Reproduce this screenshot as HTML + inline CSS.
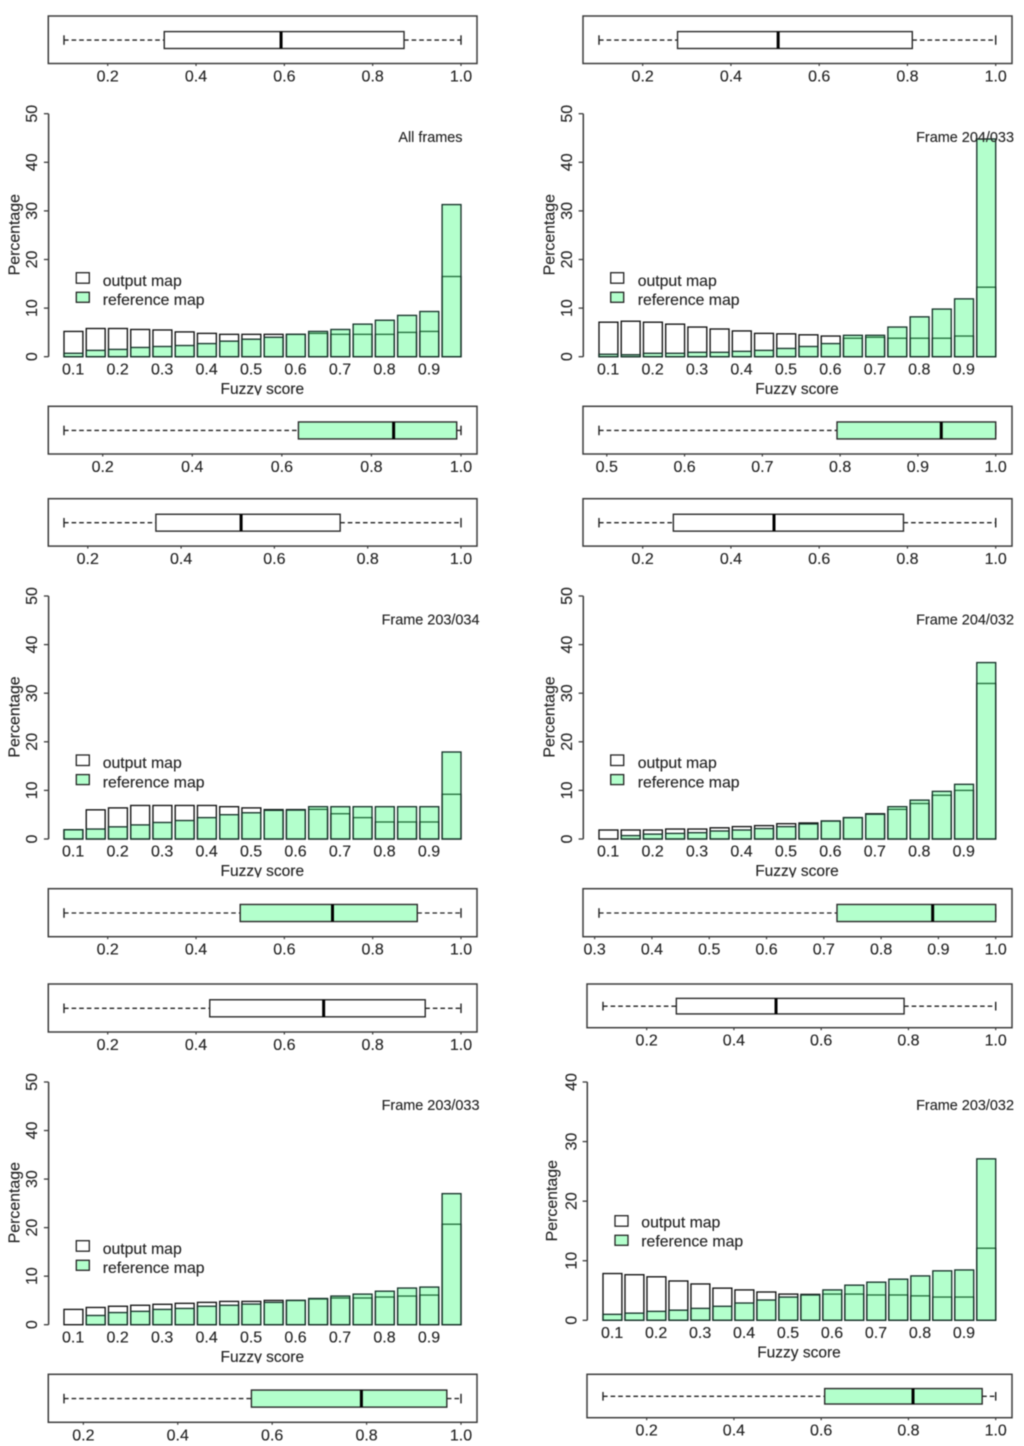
<!DOCTYPE html>
<html lang="en">
<head>
<meta charset="utf-8">
<title>Fuzzy score histograms and boxplots</title>
<style>
  html, body { margin: 0; padding: 0; background: #fff; }
  body { width: 1024px; height: 1446px; overflow: hidden; }
  svg { display: block; filter: blur(0.4px); }
  text { font-family: "Liberation Sans", sans-serif; fill: #222; stroke: #222; stroke-width: 0.12; }
</style>
</head>
<body>
<svg id="figure" xmlns="http://www.w3.org/2000/svg" width="1024" height="1446" viewBox="0 0 1024 1446">
  <rect x="0" y="0" width="1024" height="1446" fill="#fff"></rect>
</svg>
<script>
// ---------- Data: bins ----------
const binLabels = ['0.1','','0.2','','0.3','','0.4','','0.5','','0.6','','0.7','','0.8','','0.9',''];
const yTicks50 = [0, 10, 20, 30, 40, 50];
const yTicks40 = [0, 10, 20, 30, 40];

// ---------- Data: histogram percentages ----------
const allFramesOutput = [5.2,5.8,5.8,5.6,5.5,5.1,4.8,4.6,4.6,4.6,4.6,4.8,4.6,4.6,4.6,5.0,5.2,16.5];
const allFramesReference = [0.7,1.3,1.5,1.9,2.1,2.3,2.7,3.2,3.6,4.0,4.6,5.2,5.6,6.7,7.5,8.5,9.3,31.3];
const f204033Output = [7.1,7.3,7.1,6.7,6.1,5.7,5.3,4.8,4.7,4.5,4.25,3.8,4.0,3.8,3.8,3.8,4.25,14.3];
const f204033Reference = [0.5,0.4,0.7,0.7,0.9,0.9,1.1,1.3,1.7,2.1,2.7,4.4,4.4,6.1,8.2,9.8,11.9,44.8];
const f203034Output = [1.9,6.0,6.4,6.9,6.9,6.9,6.9,6.65,6.4,6.05,6.05,6.1,5.2,4.4,3.5,3.5,3.5,9.2];
const f203034Reference = [1.9,2.05,2.5,2.9,3.4,3.8,4.4,5.0,5.4,5.9,5.95,6.65,6.65,6.65,6.65,6.65,6.65,17.9];
const f204032Output = [1.85,1.85,1.85,2.05,2.05,2.3,2.55,2.75,3.15,3.3,3.7,4.4,5.2,6.1,7.3,9.0,10.0,32.0];
const f204032Reference = [0,0.7,1.0,1.15,1.3,1.65,1.85,2.15,2.55,3.1,3.7,4.4,5.1,6.65,8.0,9.8,11.25,36.3];
const f203033Output = [3.15,3.55,3.8,4.0,4.2,4.4,4.6,4.8,4.8,5.0,5.0,5.3,5.5,5.5,5.7,5.9,6.1,20.7];
const f203033Reference = [0,1.9,2.5,2.75,3.15,3.35,3.8,4.0,4.25,4.6,5.0,5.4,5.9,6.3,6.9,7.55,7.75,27.0];
const f203032Output = [7.85,7.65,7.3,6.6,6.1,5.4,5.1,4.75,4.4,4.35,4.4,4.4,4.25,4.25,4.1,3.9,3.9,12.1];
const f203032Reference = [1.0,1.2,1.5,1.7,2.0,2.35,2.9,3.4,3.9,4.25,5.1,5.9,6.4,6.9,7.45,8.3,8.45,27.1];

// ---------- Data: boxplot five-number summaries [low, q1, median, q3, high] ----------
const allFramesOutputBox = [0.101,0.328,0.5925,0.871,1.0];
const allFramesReferenceBox = [0.1136,0.637,0.8496,0.9904,1.0];
const f204033OutputBox = [0.101,0.279,0.507,0.811,1.0];
const f204033ReferenceBox = [0.490,0.796,0.930,1.0,1.0];
const f203034OutputBox = [0.149,0.346,0.5286,0.741,1.0];
const f203034ReferenceBox = [0.101,0.500,0.709,0.901,1.0];
const f204032OutputBox = [0.101,0.2695,0.4976,0.791,1.0];
const f204032ReferenceBox = [0.3076,0.723,0.890,1.0,1.0];
const f203033OutputBox = [0.101,0.431,0.689,0.919,1.0];
const f203033ReferenceBox = [0.159,0.556,0.789,0.970,1.0];
const f203032OutputBox = [0.0999,0.268,0.4965,0.790,1.0];
const f203032ReferenceBox = [0.0999,0.608,0.8105,0.969,1.0];

// ---------- Data: boxplot tick labels ----------
const ticksPoint2 = ['0.2','0.4','0.6','0.8','1.0'];
const ticksFrom5 = ['0.5','0.6','0.7','0.8','0.9','1.0'];
const ticksFrom3 = ['0.3','0.4','0.5','0.6','0.7','0.8','0.9','1.0'];

// ---------- Layout ----------
const colL = { frameL: 48.3, frameR: 477, plotL: 64, plotR: 461, axis: 48.6, yLabelX: 37, pctX: 19.5, fuzzyX: 262.3, legSwatch: 76.3, legText: 102.7, noteR: 479.5 };
const colR = { frameL: 583, frameR: 1012, plotL: 599, plotR: 995.7, axis: 583.3, yLabelX: 572, pctX: 554.5, fuzzyX: 797, legSwatch: 610.7, legText: 637.7, noteR: 1014 };
const colR3 = { frameL: 587, frameR: 1012, plotL: 603, plotR: 995.7, axis: 587.3, yLabelX: 576.5, pctX: 557, fuzzyX: 799, legSwatch: 615, legText: 641.3, noteR: 1014 };

const panels = [
  { id: 'all-frames', note: 'All frames', col: colL, noteRight: 462.5, top: 16, topH: 47.5, zero: 356.7, full: 113.7, yMax: 50, yTicks: yTicks50, botTop: 406.3, botH: 47.7, noteY: 142, leg: 272.7, legTextShift: 0, clip: true,
    output: allFramesOutput, reference: allFramesReference, outBox: allFramesOutputBox, refBox: allFramesReferenceBox, outTicks: ticksPoint2, refTicks: ticksPoint2 },
  { id: 'frame-204-033', note: 'Frame 204/033', col: colR, top: 16, topH: 47.5, zero: 356.7, full: 113.7, yMax: 50, yTicks: yTicks50, botTop: 406.3, botH: 47.7, noteY: 142, leg: 272.7, legTextShift: 0, clip: true,
    output: f204033Output, reference: f204033Reference, outBox: f204033OutputBox, refBox: f204033ReferenceBox, outTicks: ticksPoint2, refTicks: ticksFrom5 },
  { id: 'frame-203-034', note: 'Frame 203/034', col: colL, top: 498.7, topH: 47.4, zero: 839, full: 596, yMax: 50, yTicks: yTicks50, botTop: 888.7, botH: 48, noteY: 624.3, leg: 755, legTextShift: 0, clip: true,
    output: f203034Output, reference: f203034Reference, outBox: f203034OutputBox, refBox: f203034ReferenceBox, outTicks: ticksPoint2, refTicks: ticksPoint2 },
  { id: 'frame-204-032', note: 'Frame 204/032', col: colR, top: 498.7, topH: 47.4, zero: 839, full: 596, yMax: 50, yTicks: yTicks50, botTop: 888.7, botH: 48, noteY: 624.3, leg: 755, legTextShift: 0, clip: true,
    output: f204032Output, reference: f204032Reference, outBox: f204032OutputBox, refBox: f204032ReferenceBox, outTicks: ticksPoint2, refTicks: ticksFrom3 },
  { id: 'frame-203-033', note: 'Frame 203/033', col: colL, top: 984, topH: 48, zero: 1324.7, full: 1082, yMax: 50, yTicks: yTicks50, botTop: 1374.3, botH: 48, noteY: 1110, leg: 1240.7, legTextShift: 0, clip: true,
    output: f203033Output, reference: f203033Reference, outBox: f203033OutputBox, refBox: f203033ReferenceBox, outTicks: ticksPoint2, refTicks: ticksPoint2 },
  { id: 'frame-203-032', note: 'Frame 203/032', col: colR3, top: 984, topH: 43.7, zero: 1320.3, full: 1082, yMax: 40, yTicks: yTicks40, botTop: 1374.3, botH: 43.4, noteY: 1110, leg: 1215.7, legTextShift: -1.5, clip: false,
    output: f203032Output, reference: f203032Reference, outBox: f203032OutputBox, refBox: f203032ReferenceBox, outTicks: ticksPoint2, refTicks: ticksPoint2 }
];

const TICK_FONT = 16;
const LEGEND_FONT = 15.8;
const TITLE_FONT = 15.5;
const NOTE_FONT = 14.45;
const FRAME = '#3c3c3c';
const INK = '#222';
const GREEN = '#b3ffcc';
const svg = document.getElementById('figure');
const NS = 'http://www.w3.org/2000/svg';

function make(parent, tag, attrs, content) {
  const node = document.createElementNS(NS, tag);
  for (const key in attrs) node.setAttribute(key, attrs[key]);
  if (content !== undefined) node.textContent = content;
  parent.appendChild(node);
  return node;
}

function drawBox(parent, name, stats, ticks, col, top, height, fill) {
  const group = make(parent, 'g', {});
  
  

  const frame = make(group, 'rect', { x: col.frameL, y: top, width: col.frameR - col.frameL, height: height, fill: 'none', stroke: FRAME, 'stroke-width': 1.5 });
  
  

  const low = stats[0], high = stats[4];
  const axisMax = 1.0;
  const sx = v => col.plotL + (v - low) / (axisMax - low) * (col.plotR - col.plotL);
  const cy = top + height / 2 + 0.3;
  const half = height * 0.178;
  const cap = height * 0.1;
  const bottom = top + height;

  const whiskers = [[stats[0], stats[1]], [stats[3], stats[4]]];
  whiskers.forEach(function (w, i) {
    if (w[1] > w[0]) {
      const line = make(group, 'line', { x1: sx(w[0]), x2: sx(w[1]), y1: cy, y2: cy, stroke: INK, 'stroke-width': 1.35, 'stroke-dasharray': '4.6 3' });
      
      
    }
  });
  [stats[0], stats[4]].forEach(function (v, i) {
    const capLine = make(group, 'line', { x1: sx(v), x2: sx(v), y1: cy - cap, y2: cy + cap, stroke: INK, 'stroke-width': 1.4 });
    
    
  });

  const rect = make(group, 'rect', { x: sx(stats[1]), y: cy - half, width: sx(stats[3]) - sx(stats[1]), height: half * 2, fill: fill, stroke: '#2a2a2a', 'stroke-width': 1.4 });
  
  

  const med = make(group, 'line', { x1: sx(stats[2]), x2: sx(stats[2]), y1: cy - half, y2: cy + half, stroke: '#000', 'stroke-width': 3 });
  
  

  ticks.forEach(function (label) {
    const x = sx(parseFloat(label));
    const tick = make(group, 'line', { x1: x, x2: x, y1: bottom, y2: bottom + 2.5, stroke: FRAME, 'stroke-width': 1.2 });
    
    
    const text = make(group, 'text', { x: x, y: bottom + 18, 'font-size': TICK_FONT, 'text-anchor': 'middle' }, label);
    
    
  });
}

function drawHist(parent, p, index) {
  const col = p.col;
  const group = make(parent, 'g', {});
  
  

  const sy = v => p.zero - v / p.yMax * (p.zero - p.full);
  const barW = 18.9;
  const pitch = (col.plotR - col.plotL - barW) / (binLabels.length - 1);
  const bx = i => col.plotL + i * pitch;

  // y axis
  const axis = make(group, 'line', { x1: col.axis, x2: col.axis, y1: sy(0), y2: sy(p.yMax), stroke: FRAME, 'stroke-width': 1.5 });
  
  
  p.yTicks.forEach(function (v) {
    const tick = make(group, 'line', { x1: col.axis - 4.7, x2: col.axis, y1: sy(v), y2: sy(v), stroke: FRAME, 'stroke-width': 1.3 });
    
    
    const label = make(group, 'text', { x: 0, y: 0, transform: 'translate(' + col.yLabelX + ' ' + sy(v) + ') rotate(-90)', 'font-size': TICK_FONT, 'text-anchor': 'middle' }, String(v));
    
    
  });

  // bars
  p.output.forEach(function (v, i) {
    const bar = make(group, 'rect', { x: bx(i), y: sy(v), width: barW, height: sy(0) - sy(v), fill: '#fff', stroke: '#111', 'stroke-width': 1.35 });
    
    
  });
  p.reference.forEach(function (v, i) {
    const bar = make(group, 'rect', { x: bx(i), y: sy(v), width: barW, height: sy(0) - sy(v), fill: '#41ff80', 'fill-opacity': 0.4, stroke: '#17332a', 'stroke-width': 1.35 });
    
    
  });

  // x labels
  binLabels.forEach(function (label, i) {
    if (!label) return;
    const text = make(group, 'text', { x: bx(i) + barW / 2 - 0.3, y: p.zero + 17.6, 'font-size': TICK_FONT, 'text-anchor': 'middle' }, label);
    
    
  });

  // axis titles (clipped like the source panels)
  const clipAttr = {};
  if (p.clip) {
    const defs = make(group, 'defs', {});
    const cpA = make(defs, 'clipPath', { id: 'clip-pct-' + index });
    make(cpA, 'rect', { x: 0, y: p.zero - 200, width: 1024, height: 200 - 82.4 });
    const cpB = make(defs, 'clipPath', { id: 'clip-fuzzy-' + index });
    make(cpB, 'rect', { x: 0, y: p.zero + 20, width: 1024, height: 18.4 });
    clipAttr.pct = 'url(#clip-pct-' + index + ')';
    clipAttr.fuzzy = 'url(#clip-fuzzy-' + index + ')';
  }
  const pctHolder = make(group, 'g', p.clip ? { 'clip-path': clipAttr.pct } : {});
  const pctCenter = p.clip ? p.zero - 122 : p.zero - 119.6;
  const pct = make(pctHolder, 'text', { x: 0, y: 0, transform: 'translate(' + col.pctX + ' ' + pctCenter + ') rotate(-90)', 'font-size': 15.9, 'text-anchor': 'middle' }, 'Percentage');
  
  

  const fuzzyHolder = make(group, 'g', p.clip ? { 'clip-path': clipAttr.fuzzy } : {});
  const fuzzy = make(fuzzyHolder, 'text', { x: col.fuzzyX, y: p.zero + 37.2, 'font-size': TITLE_FONT, 'text-anchor': 'middle' }, 'Fuzzy score');
  
  

  // annotation
  const note = make(group, 'text', { x: p.noteRight || col.noteR, y: p.noteY, 'font-size': NOTE_FONT, 'text-anchor': 'end' }, p.note);
  
  

  // legend
  const legend = make(group, 'g', {});
  
  
  const swOut = make(legend, 'rect', { x: col.legSwatch, y: p.leg, width: 13, height: 10.5, fill: '#fff', stroke: INK, 'stroke-width': 1.3 });
  
  
  const swRef = make(legend, 'rect', { x: col.legSwatch, y: p.leg + 19.6, width: 13, height: 10, fill: GREEN, stroke: INK, 'stroke-width': 1.3 });
  
  
  const txOut = make(legend, 'text', { x: col.legText, y: p.leg + 13.2 + p.legTextShift, 'font-size': LEGEND_FONT }, 'output map');
  
  
  const txRef = make(legend, 'text', { x: col.legText, y: p.leg + 32.4 + p.legTextShift, 'font-size': LEGEND_FONT }, 'reference map');
  
  
}

panels.forEach(function (p, index) {
  const g = make(svg, 'g', {});
  
  
  drawBox(g, 'output-boxplot-' + p.id, p.outBox, p.outTicks, p.col, p.top, p.topH, '#fff');
  drawHist(g, p, index);
  drawBox(g, 'reference-boxplot-' + p.id, p.refBox, p.refTicks, p.col, p.botTop, p.botH, GREEN);
});
</script>
</body>
</html>
